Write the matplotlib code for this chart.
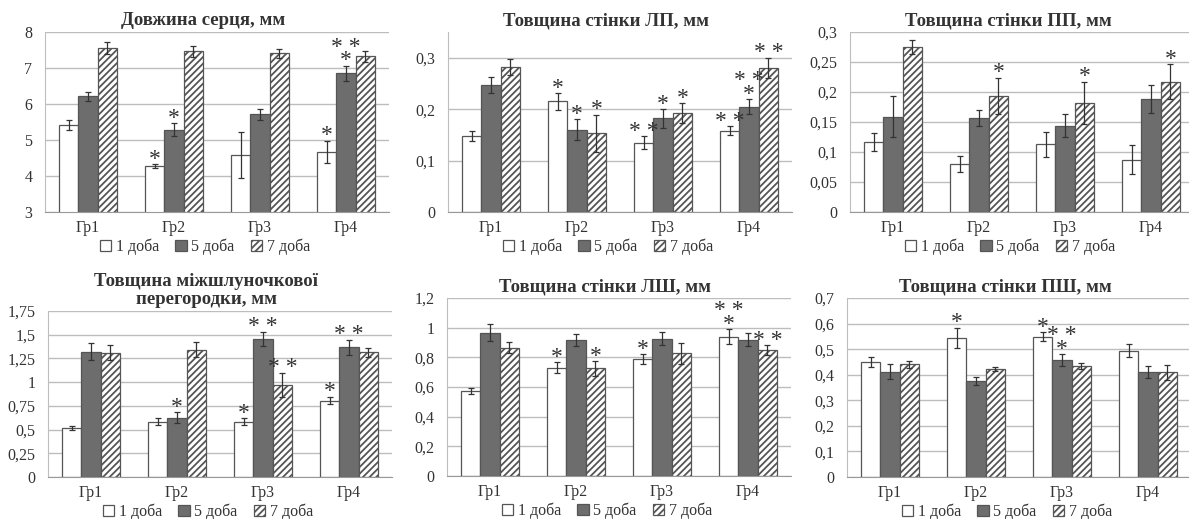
import matplotlib.pyplot as plt
import numpy as np

plt.rcParams['font.family'] = 'serif'
plt.rcParams['font.serif'] = ['Liberation Serif', 'DejaVu Serif']
plt.rcParams['hatch.linewidth'] = 1.3

groups = ["Гр1", "Гр2", "Гр3", "Гр4"]
days = ["1 доба", "5 доба", "7 доба"]

# довжина серця
len_mean = [[5.42, 4.28, 4.58, 4.67], [6.21, 5.29, 5.71, 6.85], [7.56, 7.46, 7.41, 7.32]]
len_err = [[0.14, 0.05, 0.64, 0.31], [0.13, 0.18, 0.16, 0.21], [0.16, 0.16, 0.12, 0.16]]
len_mark = [["", "*", "", "*"], ["", "*", "", "* *\n*"], ["", "", "", ""]]

# стінка ЛП
lp_mean = [[0.148, 0.215, 0.135, 0.158], [0.247, 0.160, 0.182, 0.205], [0.282, 0.153, 0.192, 0.280]]
lp_err = [[0.010, 0.016, 0.012, 0.009], [0.016, 0.020, 0.018, 0.014], [0.015, 0.036, 0.019, 0.020]]
lp_mark = [["", "*", "* *", "* *"], ["", "*", "*", "* *\n*"], ["", "*", "*", "* *"]]

# стінка ПП
pp_mean = [[0.116, 0.080, 0.113, 0.087], [0.159, 0.157, 0.144, 0.188], [0.275, 0.194, 0.182, 0.217]]
pp_err = [[0.015, 0.014, 0.021, 0.024], [0.034, 0.013, 0.019, 0.023], [0.012, 0.030, 0.035, 0.029]]
pp_mark = [["", "", "", ""], ["", "", "", ""], ["", "*", "*", "*"]]

# міжшлуночкова перегородка
mshp_mean = [[0.52, 0.583, 0.583, 0.805], [1.32, 0.625, 1.455, 1.367], [1.31, 1.34, 0.97, 1.314]]
mshp_err = [[0.02, 0.04, 0.035, 0.04], [0.09, 0.06, 0.075, 0.08], [0.08, 0.08, 0.13, 0.05]]
mshp_mark = [["", "", "*", "*"], ["", "*", "* *", "* *"], ["", "", "* *", ""]]

# стінка ЛШ
lsh_mean = [[0.573, 0.73, 0.786, 0.94], [0.967, 0.916, 0.925, 0.918], [0.866, 0.725, 0.826, 0.848]]
lsh_err = [[0.018, 0.036, 0.034, 0.05], [0.06, 0.042, 0.045, 0.043], [0.037, 0.05, 0.07, 0.034]]
lsh_mark = [["", "*", "*", "* *\n*"], ["", "", "", ""], ["", "*", "", "* *"]]

# стінка ПШ
psh_mean = [[0.45, 0.545, 0.548, 0.494], [0.411, 0.375, 0.457, 0.411], [0.44, 0.424, 0.433, 0.409]]
psh_err = [[0.02, 0.039, 0.018, 0.026], [0.029, 0.017, 0.023, 0.023], [0.015, 0.008, 0.011, 0.028]]
psh_mark = [["", "*", "*", ""], ["", "", "* *\n*", ""], ["", "", "", ""]]

W, H = 1189, 519
fig = plt.figure(figsize=(W / 100, H / 100), dpi=100)

# (left, top, right, bottom) in pixels
panels = [
    ("Довжина серця, мм", len_mean, len_err, len_mark, (3, 8), [3, 4, 5, 6, 7, 8], (45, 32, 389, 212)),
    ("Товщина стінки ЛП, мм", lp_mean, lp_err, lp_mark, (0, 0.35), [0, 0.1, 0.2, 0.3], (448, 32, 792, 212)),
    ("Товщина стінки ПП, мм", pp_mean, pp_err, pp_mark, (0, 0.3), [0, 0.05, 0.1, 0.15, 0.2, 0.25, 0.3], (850, 32, 1194, 212)),
    ("Товщина міжшлуночкової\nперегородки, мм", mshp_mean, mshp_err, mshp_mark, (0, 1.75),
     [0, 0.25, 0.5, 0.75, 1, 1.25, 1.5, 1.75], (48, 311, 392, 477)),
    ("Товщина стінки ЛШ, мм", lsh_mean, lsh_err, lsh_mark, (0, 1.2), [0, 0.2, 0.4, 0.6, 0.8, 1, 1.2], (447, 298, 791, 476)),
    ("Товщина стінки ПШ, мм", psh_mean, psh_err, psh_mark, (0, 0.7), [0, 0.1, 0.2, 0.3, 0.4, 0.5, 0.6, 0.7], (847, 298, 1191, 477)),
]

face = ["white", "#6d6d6d", "white"]
hatch = [None, None, "/////"]
bw = 0.225
x = np.arange(len(groups))


def fmt(v):
    s = f"{v:g}".replace(".", ",")
    return s


for title, mean, err, mark, ylim, yticks, (l, t, r, b) in panels:
    ax = fig.add_axes([l / W, 1 - b / H, (r - l) / W, (b - t) / H])
    for i in range(3):
        xs = x + (i - 1) * bw
        ax.bar(xs, mean[i], bw, color=face[i], edgecolor="#555555", linewidth=0.9,
               hatch=hatch[i], label=days[i], zorder=2)
        ax.errorbar(xs, mean[i], yerr=err[i], fmt="none", ecolor="#333333",
                    elinewidth=0.9, capsize=2.5, capthick=0.9, zorder=3)
        for j in range(len(groups)):
            if mark[i][j]:
                ax.annotate(mark[i][j], (xs[j], mean[i][j] + err[i][j]),
                            xytext=(0, -4), textcoords="offset points",
                            ha="center", va="bottom", fontsize=17,
                            color="#333333", linespacing=0.55)
    ax.set_xlim(-0.5, len(groups) - 0.5)
    ax.set_ylim(*ylim)
    ax.set_yticks(yticks)
    ax.set_yticklabels([fmt(v) for v in yticks])
    ax.set_xticks(x)
    ax.set_xticklabels(groups)
    ax.tick_params(length=0, labelsize=11.5, labelcolor="#333333")
    ax.tick_params(axis="y", pad=9)
    ax.tick_params(axis="x", pad=6)
    ax.grid(axis="y", color="#bdbdbd", linewidth=1.0, zorder=0)
    ax.set_axisbelow(True)
    for s in ["top", "right"]:
        ax.spines[s].set_visible(False)
    ax.spines["left"].set_color("#bdbdbd")
    ax.spines["bottom"].set_color("#999999")
    ax.set_title(title, x=0.46, fontsize=13.5, fontweight="bold", color="#333333", pad=5,
                 linespacing=1.05)
    hpx = b - t
    ax.legend(loc="center", bbox_to_anchor=(0.465, -35 / hpx), ncol=3, frameon=False,
              fontsize=11.5, handlelength=0.7, handleheight=0.7, handletextpad=0.3,
              columnspacing=1.0, labelcolor="#333333")

fig.savefig("out.png", dpi=100)
